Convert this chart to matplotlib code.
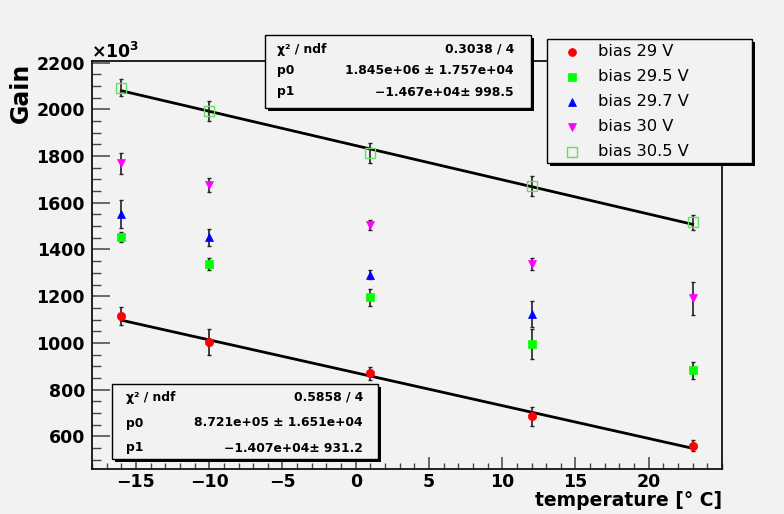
import matplotlib
matplotlib.use("Agg")
import matplotlib.pyplot as plt
from matplotlib.patches import Rectangle
from matplotlib.lines import Line2D
import numpy as np

# ---------------- data (gain in units of 10^3) ----------------
temp_all = [-16, -10, 1, 12, 23]
temp_297 = [-16, -10, 1, 12]

gain_29 = [1115, 1004, 869, 686, 560]
err_29 = [40, 54, 26, 41, 25]

gain_295 = [1455, 1337, 1195, 997, 883]
err_295 = [21, 25, 37, 64, 36]

gain_297 = [1551, 1452, 1291, 1124]
err_297 = [60, 37, 19, 57]

gain_30 = [1769, 1676, 1505, 1337, 1191]
err_30 = [44, 32, 20, 25, 71]

gain_305 = [2093, 1993, 1813, 1673, 1516]
err_305 = [37, 43, 43, 43, 31]

series_labels = ["bias 29 V", "bias 29.5 V", "bias 29.7 V", "bias 30 V", "bias 30.5 V"]

# fit results (from the stat boxes)
fit_low = {"chi2": "0.5858 / 4", "p0": 8.721e5, "p0e": "1.651e+04", "p1": -1.407e4, "p1e": "931.2"}
fit_high = {"chi2": "0.3038 / 4", "p0": 1.845e6, "p0e": "1.757e+04", "p1": -1.467e4, "p1e": "998.5"}
fit_range = [-16, 23]

x_ticks = [-15, -10, -5, 0, 5, 10, 15, 20]
y_ticks = [600, 800, 1000, 1200, 1400, 1600, 1800, 2000, 2200]

# ---------------- figure ----------------
W, H = 784, 514
BG = "#f2f2f2"
fig = plt.figure(figsize=(W / 100, H / 100), dpi=100, facecolor=BG)


def fx(px):
    return px / W


def fy(py):
    return 1 - py / H


L, R, T, B = 92, 722, 61, 469
ax = fig.add_axes([fx(L), fy(B), fx(R) - fx(L), fy(T) - fy(B)], facecolor=BG)
ax.set_xlim(-18, 25)
ax.set_ylim(460, 2207)

for s in ax.spines.values():
    s.set_linewidth(1.3)
    s.set_color("#111111")

ax.set_xticks(x_ticks)
ax.set_xticklabels([("\u2212%d" % -v) if v < 0 else str(v) for v in x_ticks])
ax.set_xticks(np.arange(-18, 26, 1), minor=True)
ax.set_yticks(y_ticks)
ax.set_yticklabels([str(v) for v in y_ticks])
ax.set_yticks(np.arange(500, 2201, 50), minor=True)

ax.tick_params(axis="x", which="major", direction="in", length=9, width=1.1,
               color="#444444", pad=3, labelsize=12.5)
ax.tick_params(axis="x", which="minor", direction="in", length=4.5, width=1.0, color="#444444")
ax.tick_params(axis="y", which="major", direction="in", length=13, width=1.1,
               color="#444444", pad=5, labelsize=12.5)
ax.tick_params(axis="y", which="minor", direction="in", length=6.5, width=1.0, color="#444444")
for lab in ax.get_xticklabels() + ax.get_yticklabels():
    lab.set_fontweight("bold")

# ---------------- fit lines ----------------
xf = np.array(fit_range, dtype=float)
for fit in (fit_low, fit_high):
    ax.plot(xf, (fit["p0"] + fit["p1"] * xf) / 1000.0, color="black", lw=2.0, zorder=2)

# ---------------- data points ----------------
styles = [
    dict(marker="o", color="#ff0000", ms=6.0, mfc="#ff0000", mec="#ff0000"),
    dict(marker="s", color="#00ff00", ms=5.5, mfc="#00ff00", mec="#00ff00"),
    dict(marker="^", color="#0000ff", ms=5.5, mfc="#0000ff", mec="#0000ff"),
    dict(marker="v", color="#ff00ff", ms=5.5, mfc="#ff00ff", mec="#ff00ff"),
    dict(marker="s", color="#66dd66", ms=7.0, mfc="none", mec="#66dd66", mew=1.0),
]
data = [
    (temp_all, gain_29, err_29),
    (temp_all, gain_295, err_295),
    (temp_297, gain_297, err_297),
    (temp_all, gain_30, err_30),
    (temp_all, gain_305, err_305),
]
for (xs, ys, es), st in zip(data, styles):
    ax.errorbar(xs, ys, yerr=es, fmt="none", ecolor="#222222", elinewidth=1.2,
                capsize=1.6, capthick=1.0, zorder=3)
    ax.plot(xs, ys, linestyle="none", marker=st["marker"], ms=st["ms"],
            mfc=st["mfc"], mec=st["mec"], mew=st.get("mew", 0.5), zorder=4)

# ---------------- axis titles ----------------
fig.text(fx(21), fy(63), "Gain", rotation=90, ha="center", va="top",
         fontsize=17, fontweight="bold")
fig.text(fx(722), fy(506), "temperature [\u00b0 C]", ha="right", va="baseline",
         fontsize=13.5, fontweight="bold")
fig.text(fx(91), fy(58), r"$\mathbf{\times10^{3}}$", ha="left", va="baseline", fontsize=12.5)


# ---------------- boxes ----------------
def box(x0, y0, x1, y1, shadow=3):
    fig.add_artist(Rectangle((fx(x0 + shadow), fy(y1 + shadow)), fx(x1 - x0), fy(y0) - fy(y1),
                             transform=fig.transFigure, facecolor="black", edgecolor="none", zorder=5))
    fig.add_artist(Rectangle((fx(x0), fy(y1)), fx(x1 - x0), fy(y0) - fy(y1),
                             transform=fig.transFigure, facecolor=BG, edgecolor="black",
                             lw=1.0, zorder=6))


def statbox(fit, x0, y0, x1, y1, lx, rx, rows):
    box(x0, y0, x1, y1)
    p0 = fit["p0"]
    p1 = fit["p1"]
    vals = [fit["chi2"],
            "%s \u00b1 %s" % (("%.3e" % p0).replace("e+0", "e+0"), fit["p0e"]),
            "%s\u00b1 %s" % (("%.3e" % p1).replace("-", "\u2212"), fit["p1e"])]
    labs = ["\u03c7\u00b2 / ndf", "p0", "p1"]
    for ry, lab, val in zip(rows, labs, vals):
        fig.text(fx(lx), fy(ry), lab, ha="left", va="center", fontsize=8.9,
                 fontweight="bold", zorder=7)
        fig.text(fx(rx), fy(ry), val, ha="right", va="center", fontsize=8.9,
                 fontweight="bold", zorder=7)


statbox(fit_high, 265, 35, 531, 108, 277, 514, [49.5, 70.5, 92])
statbox(fit_low, 112, 384, 378, 459, 126, 363, [397, 423, 448])

# legend
box(547, 39, 752, 163)
leg_rows = [51.7, 76.7, 101.7, 126.7, 151.7]
for ry, lab, st in zip(leg_rows, series_labels, styles):
    fig.add_artist(Line2D([fx(572)], [fy(ry)], transform=fig.transFigure, linestyle="none",
                          marker=st["marker"], ms=st["ms"] * 0.95, mfc=st["mfc"], mec=st["mec"],
                          mew=st.get("mew", 0.5), zorder=7))
    fig.text(fx(598), fy(ry), lab, ha="left", va="center", fontsize=11.7, zorder=7)

fig.savefig("out.png", dpi=100, facecolor=BG)
